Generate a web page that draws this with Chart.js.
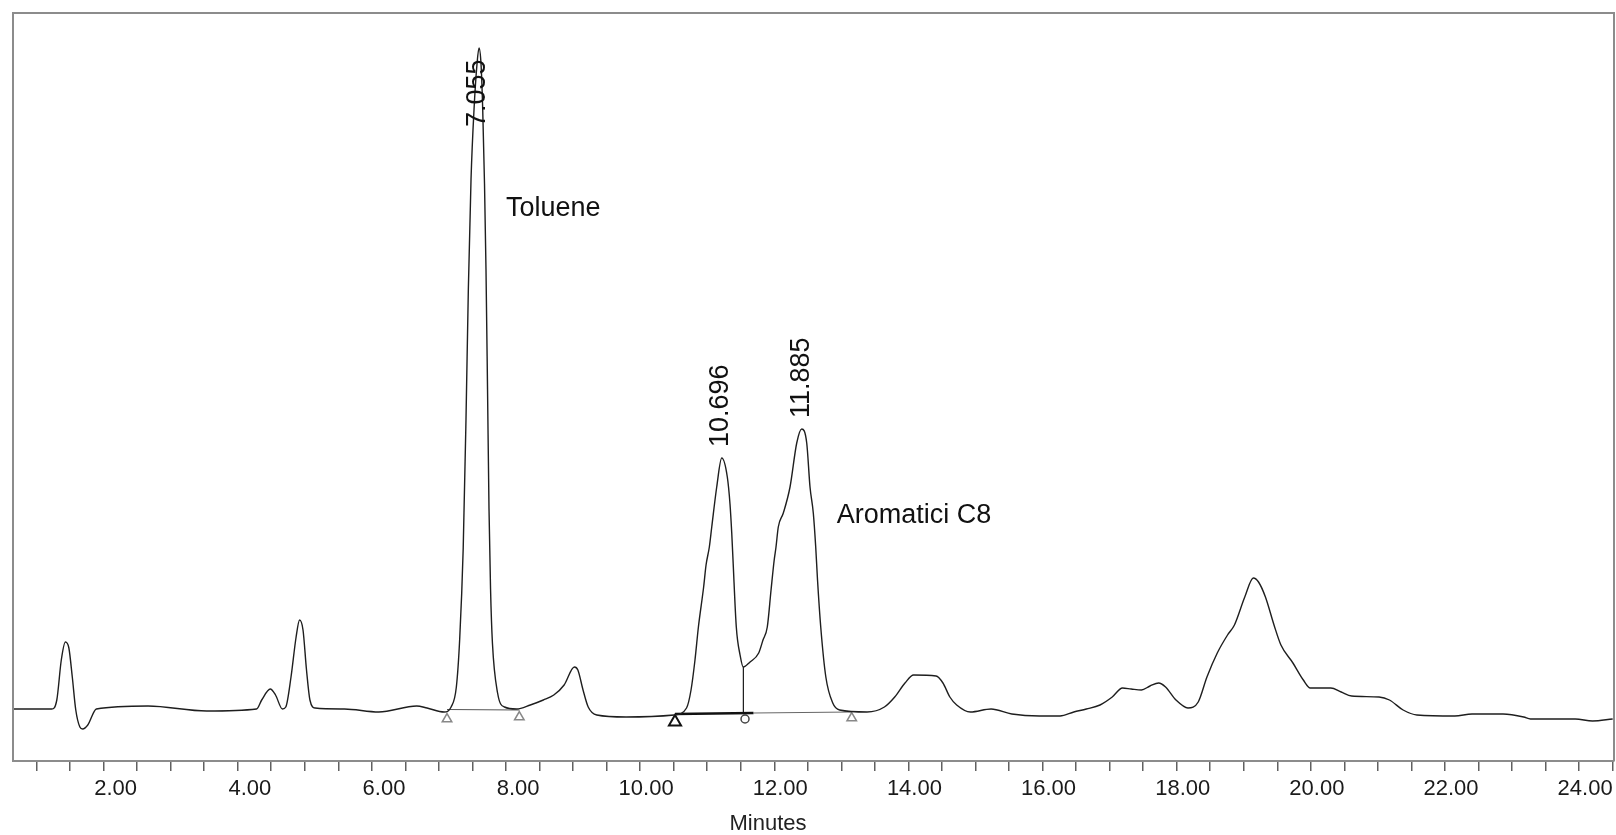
<!DOCTYPE html>
<html>
<head>
<meta charset="utf-8">
<title>Cromatogramma</title>
<script src="https://cdn.jsdelivr.net/npm/chart.js@4/dist/chart.umd.min.js"></script>
<style>
  html, body { margin: 0; padding: 0; background: #fff; overflow: hidden; }
  #wrap { width: 1616px; height: 835px; position: relative; }
</style>
</head>
<body>
<div id="wrap"><canvas id="chart"></canvas></div>
<script>
// detector trace (minutes / response)
const traceTimes = [
  0.15, 0.727, 0.803, 0.870, 0.931, 0.983, 1.034, 1.086, 1.147, 1.188, 1.265, 1.393,
  2.163, 3.037, 3.781, 3.858, 3.986, 4.064, 4.167, 4.217, 4.295, 4.371, 4.423, 4.474,
  4.526, 4.577, 4.654, 5.091, 5.604, 6.169, 6.323, 6.579, 6.682, 6.760, 6.810, 6.862,
  6.904, 6.939, 6.979, 7.024, 7.068, 7.098, 7.128, 7.153, 7.180, 7.202, 7.225, 7.247,
  7.270, 7.298, 7.375, 7.478, 7.657, 7.863, 8.057, 8.213, 8.367, 8.520, 8.572, 8.649,
  8.726, 8.854, 9.290, 10.010, 10.192, 10.259, 10.318, 10.369, 10.447, 10.483, 10.532,
  10.568, 10.642, 10.717, 10.800, 10.840, 10.866, 10.885, 10.934, 10.990, 11.037, 11.139,
  11.268, 11.332, 11.396, 11.452, 11.499, 11.526, 11.560, 11.635, 11.735, 11.835, 11.909,
  11.984, 12.033, 12.082, 12.118, 12.145, 12.193, 12.269, 12.372, 12.474, 12.883, 13.142,
  13.296, 13.449, 13.578, 13.912, 14.015, 14.118, 14.220, 14.425, 14.733, 15.042, 15.452,
  15.761, 15.966, 16.153, 16.357, 16.539, 16.692, 16.821, 16.974, 17.102, 17.231, 17.334,
  17.489, 17.668, 17.821, 17.951, 18.105, 18.258, 18.361, 18.515, 18.643, 18.720, 18.823,
  18.951, 19.054, 19.233, 19.388, 19.491, 19.798, 19.953, 20.107, 20.517, 20.672, 20.876,
  21.082, 21.647, 21.903, 22.366, 22.674, 22.775, 23.443, 23.700, 24.0
];
const traceResponse = [
  0, 0, 9, 49, 67, 61, 32, -1, -18, -20, -16, 0,
  3, -2, 0, 9, 20, 14, 0, 2, 32, 72, 89, 79,
  39, 9, 1, 0, -3, 3, 1, -3, 2, 22, 70, 160,
  290, 420, 530, 600, 645, 661, 645, 600, 525, 440, 320, 200,
  120, 66, 16, 2, 0, 4, 9, 14, 24, 42, 39, 19,
  2, -6, -8, -6, 1, 19, 49, 82, 122, 144, 162,
  182, 222, 251, 232, 205, 176, 149, 82, 54, 42, 47,
  56, 69, 82, 119, 149, 162, 182, 196, 222, 266, 280,
  266, 222, 196, 162, 129, 82, 32, 6, -1, -3, 2,
  12, 26, 34, 33, 26, 12, 4, -3, 0, -5, -7,
  -7, -3, 0, 4, 12, 21, 20, 19, 23, 26, 22,
  9, 1, 7, 32, 56, 74, 84, 112, 131, 127, 112,
  84, 64, 46, 29, 21, 21, 17, 13, 12, 9, -1,
  -6, -7, -5, -5, -8, -10, -10, -12, -10
];

// integration baselines and drop line
const tolueneBaseTimes = [6.621, 7.699];
const tolueneBaseLevels = [-0.5, -1];
const aromBoldTimes = [10.02, 11.19];
const aromBoldLevels = [-5, -4];
const aromThinTimes = [11.19, 12.655];
const aromThinLevels = [-4, -3];
const dropTimes = [11.04, 11.04];
const dropLevels = [42, -4.5];

// baseline markers
const grayMarkTimes = [6.621, 7.699, 12.655];
const grayMarkLevels = [-10, -8, -9];
const boldMarkTimes = [10.02];
const boldMarkLevels = [-13];
const dropMarkTimes = [11.064];
const dropMarkLevels = [-10];

// peak labels
const peakLabels = ['7.055', '10.696', '11.885'];
const peakLabelTimes = [7.076, 10.703, 11.909];
const peakLabelLevels = [582, 262, 291];
const compoundNames = ['Toluene', 'Aromatici C8'];
const compoundTimes = [7.50, 12.431];
const compoundLevels = [493, 186];

const xTickStep = 0.5;

function pts(xs, ys) {
  return xs.map((x, i) => ({ x: x, y: ys[i] }));
}

const FONT = '"Liberation Sans", Arial, sans-serif';

const labelsPlugin = {
  id: 'peakLabels',
  afterDatasetsDraw(chart) {
    const { ctx, scales: { x, y } } = chart;
    ctx.save();
    ctx.fillStyle = '#111';
    ctx.font = '27px ' + FONT;
    peakLabels.forEach((txt, i) => {
      ctx.save();
      ctx.translate(x.getPixelForValue(peakLabelTimes[i]), y.getPixelForValue(peakLabelLevels[i]));
      ctx.rotate(-Math.PI / 2);
      ctx.textAlign = 'left';
      ctx.textBaseline = 'middle';
      ctx.fillText(txt, 0, 0);
      ctx.restore();
    });
    ctx.textAlign = 'left';
    ctx.textBaseline = 'alphabetic';
    compoundNames.forEach((txt, i) => {
      ctx.fillText(txt, x.getPixelForValue(compoundTimes[i]), y.getPixelForValue(compoundLevels[i]));
    });
    ctx.restore();
  }
};

const framePlugin = {
  id: 'frame',
  afterDraw(chart) {
    const { ctx, chartArea: { left, top, right, bottom } } = chart;
    ctx.save();
    ctx.strokeStyle = '#8c8c8c';
    ctx.lineWidth = 2;
    ctx.beginPath();
    ctx.moveTo(left, bottom);
    ctx.lineTo(left, top);
    ctx.lineTo(right, top);
    ctx.lineTo(right, bottom);
    ctx.stroke();
    // axis title, a bit left of centre as in the original
    ctx.fillStyle = '#222';
    ctx.font = '22px ' + FONT;
    ctx.textAlign = 'center';
    ctx.textBaseline = 'alphabetic';
    ctx.fillText('Minutes', left + (right - left) * 0.4716, chart.height - 5);
    ctx.restore();
  }
};

new Chart(document.getElementById('chart'), {
  type: 'line',
  data: {
    datasets: [
      {
        label: 'Segnale',
        data: pts(traceTimes, traceResponse),
        borderColor: '#1e1e1e',
        borderWidth: 1.4,
        cubicInterpolationMode: 'monotone',
        fill: false
      },
      { data: pts(tolueneBaseTimes, tolueneBaseLevels), borderColor: '#555', borderWidth: 1 },
      { data: pts(aromBoldTimes, aromBoldLevels), borderColor: '#111', borderWidth: 2.5 },
      { data: pts(aromThinTimes, aromThinLevels), borderColor: '#666', borderWidth: 1 },
      { data: pts(dropTimes, dropLevels), borderColor: '#222', borderWidth: 1 },
      {
        data: pts(grayMarkTimes, grayMarkLevels), showLine: false,
        pointStyle: 'triangle', pointRadius: 5.5, pointBorderColor: '#888',
        pointBackgroundColor: '#fff', pointBorderWidth: 1.5
      },
      {
        data: pts(boldMarkTimes, boldMarkLevels), showLine: false,
        pointStyle: 'triangle', pointRadius: 7, pointBorderColor: '#111',
        pointBackgroundColor: '#fff', pointBorderWidth: 2
      },
      {
        data: pts(dropMarkTimes, dropMarkLevels), showLine: false,
        pointStyle: 'circle', pointRadius: 4, pointBorderColor: '#444',
        pointBackgroundColor: '#fff', pointBorderWidth: 1.5
      }
    ]
  },
  options: {
    responsive: true,
    maintainAspectRatio: false,
    animation: false,
    layout: { autoPadding: false, padding: { left: 13, top: 13, right: 2, bottom: 0 } },
    elements: { point: { radius: 0 }, line: { tension: 0 } },
    plugins: { legend: { display: false }, tooltip: { enabled: false } },
    scales: {
      x: {
        type: 'linear',
        position: 'bottom',
        min: 0.15,
        max: 24.02,
        afterFit: (scale) => { scale.height = 74; },
        border: { display: true, color: '#8c8c8c', width: 2 },
        grid: { drawOnChartArea: false, drawTicks: true, tickLength: 10, color: '#606060', lineWidth: 1.5 },
        ticks: {
          stepSize: xTickStep,
          includeBounds: false,
          autoSkip: false,
          maxRotation: 0,
          minRotation: 0,
          align: 'end',
          padding: 2,
          color: '#1a1a1a',
          font: { family: FONT, size: 22, lineHeight: 1.45 },
          callback: (value) => (Math.abs(value % 2) < 1e-9 ? value.toFixed(2) : '')
        }
      },
      y: {
        type: 'linear',
        display: false,
        min: -52,
        max: 696
      }
    }
  },
  plugins: [labelsPlugin, framePlugin]
});
</script>
</body>
</html>
